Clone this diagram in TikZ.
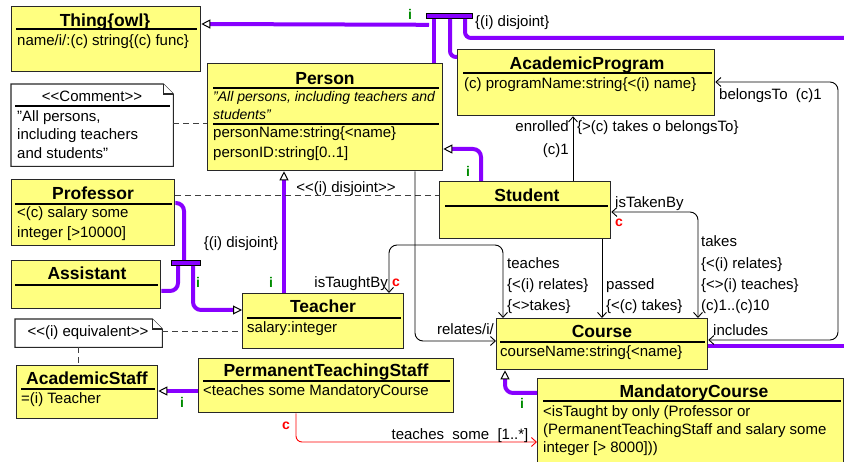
\documentclass[tikz,border=0pt]{standalone}
\usepackage{fontspec}
\setmainfont{Liberation Sans}
\usetikzlibrary{arrows.meta,calc}
\definecolor{clsfill}{RGB}{255,255,128}
\definecolor{umlpurple}{RGB}{136,0,255}
\definecolor{umlgreen}{RGB}{0,140,0}
\definecolor{edgegray}{RGB}{40,40,40}
\begin{document}
\begin{tikzpicture}[x=1pt,y=-1pt,
  cls/.style={draw=edgegray, fill=clsfill, line width=1.3pt, inner sep=0pt, anchor=north west},
  notebox/.style={inner sep=0pt, anchor=north west},
  notel/.style={draw=edgegray, line width=1.1pt, fill=white},
  ttl/.style={font=\fontsize{17.5}{20}\selectfont\bfseries, inner sep=0pt, anchor=base},
  attr/.style={font=\fontsize{15}{18}\selectfont, inner sep=0pt, anchor=base west},
  ital/.style={font=\fontsize{14}{18}\selectfont\itshape, inner sep=0pt, anchor=base west},
  lbl/.style={font=\fontsize{15}{18}\selectfont, inner sep=0pt},
  sepline/.style={line width=1.3pt, black},
  gi/.style={font=\fontsize{14}{16}\selectfont\bfseries, text=umlgreen, inner sep=0pt, anchor=base},
  rc/.style={font=\fontsize{14}{16}\selectfont\bfseries, text=red, inner sep=0pt, anchor=base},
  genl/.style={draw=umlpurple, line width=4pt},
  gen/.style={genl, -{Triangle[open,length=9pt,width=9pt,line width=1pt,color=black,fill=white]}},
  gbar/.style={fill=umlpurple, draw=black, line width=0.8pt, inner sep=0pt, anchor=north west},
  assoc/.style={draw=black, line width=0.9pt},
  redassoc/.style={draw=red, line width=0.9pt},
  dashl/.style={draw=black!75, line width=1pt, dash pattern=on 6pt off 4pt},
  >={Straight Barb[length=5pt,width=9pt,line width=0.9pt]}
]
\fill[white] (0,0) rectangle (844,462);
\useasboundingbox (0,0) rectangle (844,462);

% ---------- Thing ----------
\node[cls, minimum width=189pt, minimum height=65pt] (thing) at (11,6) {};
\node[ttl] (thingT) at (105,27) {Thing\{owl\}};
\draw[sepline] (16,29) -- (197,29);
\node[attr] (thingA) at (17,46) {name/i/:(c) string\{(c) func\}};

% ---------- Comment note ----------
\node[notebox, minimum width=162pt, minimum height=82pt] (comment) at (11,84) {};
\draw[notel] (comment.north west) -- ([xshift=-10pt]comment.north east) -- ([yshift=-10pt]comment.north east) -- (comment.south east) -- (comment.south west) -- cycle;
\draw[notel] ([xshift=-10pt]comment.north east) -- ([xshift=-10pt,yshift=-10pt]comment.north east) -- ([yshift=-10pt]comment.north east);
\node[lbl, anchor=base] (commentT) at (92,102) {<{}<Comment>{}>};
\draw[sepline] (15,106) -- (170,106);
\node[attr] (commentL1) at (17,122) {"All persons,};
\node[attr] (commentL2) at (17,140) {including teachers};
\node[attr] (commentL3) at (17,159) {and students"};

% ---------- Person ----------
\node[cls, minimum width=235pt, minimum height=107pt] (person) at (207,63) {};
\node[ttl] (personT) at (325,85) {Person};
\draw[sepline] (213,88) -- (439,88);
\node[ital] (personC1) at (213,102) {"All persons, including teachers and};
\node[ital] (personC2) at (213,120) {students"};
\draw[sepline] (213,124) -- (439,124);
\node[attr] (personA1) at (213,138) {personName:string\{<name\}};
\node[attr] (personA2) at (213,158) {personID:string[0..1]};

% ---------- AcademicProgram ----------
\node[cls, minimum width=257pt, minimum height=66pt] (ap) at (457,49) {};
\node[ttl] (apT) at (587,70) {AcademicProgram};
\draw[sepline] (463,73) -- (712,73);
\node[attr] (apA) at (464,89) {(c) programName:string\{<(i) name\}};

% ---------- Student ----------
\node[cls, minimum width=171pt, minimum height=57pt] (student) at (439,181) {};
\node[ttl] (studentT) at (527,202) {Student};
\draw[sepline] (445,206) -- (608,206);

% ---------- Professor ----------
\node[cls, minimum width=163pt, minimum height=66pt] (professor) at (11,179) {};
\node[ttl] (professorT) at (93,200) {Professor};
\draw[sepline] (15,204) -- (172,204);
\node[attr] (professorA1) at (17,218) {<(c) salary some};
\node[attr] (professorA2) at (17,238) {integer [>10000]};

% ---------- Assistant ----------
\node[cls, minimum width=149pt, minimum height=48pt] (assistant) at (11,260) {};
\node[ttl] (assistantT) at (87,280) {Assistant};
\draw[sepline] (15,285) -- (158,285);

% ---------- Teacher ----------
\node[cls, minimum width=161pt, minimum height=55pt] (teacher) at (242,293) {};
\node[ttl] (teacherT) at (323,313) {Teacher};
\draw[sepline] (247,318) -- (401,318);
\node[attr] (teacherA) at (247,333) {salary:integer};

% ---------- Course ----------
\node[cls, minimum width=211pt, minimum height=51pt] (course) at (496,318) {};
\node[ttl] (courseT) at (602,338) {Course};
\draw[sepline] (500,342) -- (705,342);
\node[attr] (courseA) at (500,357) {courseName:string\{<name\}};

% ---------- MandatoryCourse ----------
\node[cls, minimum width=306pt, minimum height=95pt] (mand) at (537,378) {};
\node[ttl] (mandT) at (694,398) {MandatoryCourse};
\draw[sepline] (543,401) -- (841,401);
\node[attr] (mandA1) at (543,417) {<isTaught by only (Professor or};
\node[attr] (mandA2) at (543,435) {(PermanentTeachingStaff and salary some};
\node[attr] (mandA3) at (543,453) {integer [> 8000]))};

% ---------- PermanentTeachingStaff ----------
\node[cls, minimum width=255pt, minimum height=54pt] (pts) at (198,358) {};
\node[ttl] (ptsT) at (326,377) {PermanentTeachingStaff};
\draw[sepline] (203,381) -- (450,381);
\node[attr] (ptsA) at (203,396) {<teaches some MandatoryCourse};

% ---------- AcademicStaff ----------
\node[cls, minimum width=141pt, minimum height=53pt] (staff) at (16,365) {};
\node[ttl] (staffT) at (87,385) {AcademicStaff};
\draw[sepline] (21,389) -- (155,389);
\node[attr] (staffA) at (21,404) {=(i) Teacher};

% ---------- Equivalent note ----------
\node[notebox, minimum width=147pt, minimum height=28pt] (eq) at (15,319) {};
\draw[notel] (eq.north west) -- ([xshift=-10pt]eq.north east) -- ([yshift=-10pt]eq.north east) -- (eq.south east) -- (eq.south west) -- cycle;
\draw[notel] ([xshift=-10pt]eq.north east) -- ([xshift=-10pt,yshift=-10pt]eq.north east) -- ([yshift=-10pt]eq.north east);
\node[lbl, anchor=base] (eqT) at (88,337) {<{}<(i) equivalent>{}>};

% ---------- generalization sets (bars) ----------
\node[gbar, minimum width=46pt, minimum height=5pt] (bar1) at (426,13) {};
\node[gbar, minimum width=29pt, minimum height=5pt] (bar2) at (171,260) {};
\coordinate (offR) at (846,38);
\coordinate (offC) at (846,346);

% Thing generalization set
\draw[gen] ([shift={(3,6)}]bar1.south west) -- (thing.east |- 0,24);
\draw[genl] (bar1.south -| 434,0) -- (person.north -| 434,0);
\draw[genl, rounded corners=6pt] (bar1.south -| 450,0) |- (ap.west |- 0,57);
\draw[genl, rounded corners=6pt] (bar1.south -| 465,0) |- (offR);
\draw[genl] (course.east |- offC) -- (offC);
\node[gi] (gi1) at (410,20) {i};
\node[lbl, anchor=base west] (disj1) at (475,27) {\{(i) disjoint\}};

% Student / Teacher -> Person
\draw[gen, rounded corners=8pt] (student.north -| 481,0) |- (person.east |- 0,149);
\node[gi] (gi2) at (468,177) {i};
\draw[gen] (teacher.north -| 284,0) -- (person.south -| 284,0);
\node[gi] (gi3) at (271,288) {i};

% Professor / Assistant -> Teacher
\draw[genl, rounded corners=8pt] (professor.east |- 0,203) -| (bar2.north -| 184,0);
\draw[genl, rounded corners=8pt] (assistant.east |- 0,291) -| (bar2.south -| 178,0);
\draw[gen, rounded corners=8pt] (bar2.south -| 193,0) |- (teacher.west |- 0,310);
\node[gi] (gi4) at (198,288) {i};
\node[lbl, anchor=base] (disj2) at (241,248) {\{(i) disjoint\}};

% PTS -> AcademicStaff, MandatoryCourse -> Course
\draw[gen] (pts.west |- 0,391) -- (staff.east |- 0,391);
\node[gi] (gi5) at (182,407) {i};
\draw[gen, rounded corners=8pt] (mand.west |- 0,393) -| (course.south -| 505,0);
\node[gi] (gi6) at (522,409) {i};

% dashed links
\draw[dashl] (professor.east |- 0,196) -- (student.west |- 0,196);
\node[lbl, anchor=base] (disj3) at (346,193) {<{}<(i) disjoint>{}>};
\draw[dashl] (comment.east |- 0,124) -- (person.west |- 0,124);
\draw[dashl] (eq.south -| 78,0) -- (staff.north -| 78,0);
\draw[dashl] (eq.east |- 0,332) -- (teacher.west |- 0,332);

% associations
\draw[assoc, <->, rounded corners=8pt] (teacher.north -| 389,0) |- (503,245) -- (course.north -| 503,0);
\node[lbl, anchor=base east] (isTaughtBy) at (388,288) {isTaughtBy};
\node[rc] (rc1) at (396,287) {c};
\node[lbl, anchor=base west] (teachesL1) at (507,269) {teaches};
\node[lbl, anchor=base west] (teachesL2) at (507,290) {\{<(i) relates\}};
\node[lbl, anchor=base west] (teachesL3) at (507,311) {\{<>takes\}};

\draw[assoc, ->, rounded corners=8pt] (person.south -| 415,0) |- (course.west |- 0,341);
\node[lbl, anchor=base east] (relates) at (494,335) {relates/i/};

\draw[assoc, ->] (student.north -| 573,0) -- (ap.south -| 573,0);
\node[lbl, anchor=base east] (enrolled) at (569,132) {enrolled};
\node[lbl, anchor=base west] (enrolledC) at (577,132) {\{>(c) takes o belongsTo\}};
\node[lbl, anchor=base east] (enrolledM) at (569,155) {(c)1};

\draw[assoc, ->] (student.south -| 602,0) -- (course.north -| 602,0);
\node[lbl, anchor=base west] (passedL1) at (606,290) {passed};
\node[lbl, anchor=base west] (passedL2) at (606,311) {\{<(c) takes\}};

\draw[assoc, <->, rounded corners=8pt] (student.east |- 0,212) -| (course.north -| 698,0);
\node[lbl, anchor=base west] (isTakenBy) at (615,208) {isTakenBy};
\node[rc] (rc2) at (619,227) {c};
\node[lbl, anchor=base west] (takesL1) at (701,247) {takes};
\node[lbl, anchor=base west] (takesL2) at (701,269) {\{<(i) relates\}};
\node[lbl, anchor=base west] (takesL3) at (701,290) {\{<>(i) teaches\}};
\node[lbl, anchor=base west] (takesL4) at (701,311) {(c)1..(c)10};

\draw[assoc, <->, rounded corners=8pt] (course.east |- 0,340) -| (838,211) |- (ap.east |- 0,82);
\node[lbl, anchor=base west] (includes) at (713,336) {includes};
\node[lbl, anchor=base west] (belongsTo) at (719,100) {belongsTo\ \ (c)1};

\draw[redassoc, ->, rounded corners=6pt] (pts.south -| 296,0) |- (mand.west |- 0,442);
\node[lbl, anchor=base] (teachesSome) at (460,439) {teaches\ \ some\ \ [1..*]};
\node[rc] (rc3) at (286,430) {c};
\end{tikzpicture}
\end{document}
